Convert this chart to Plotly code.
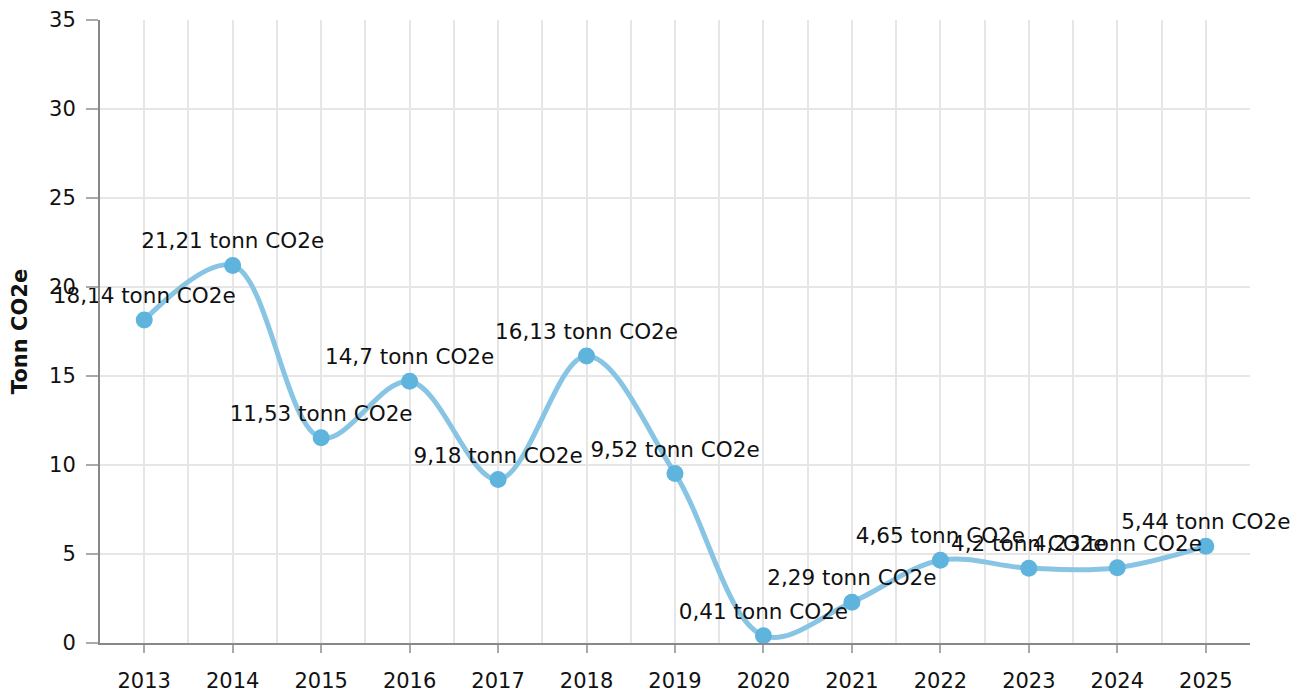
import plotly.graph_objects as go

years = [2013, 2014, 2015, 2016, 2017, 2018, 2019, 2020, 2021, 2022, 2023, 2024, 2025]
values = [18.14, 21.21, 11.53, 14.7, 9.18, 16.13, 9.52, 0.41, 2.29, 4.65, 4.2, 4.23, 5.44]
labels = [f"{str(v).replace('.', ',')} tonn CO2e" for v in values]
y_ticks = [0, 5, 10, 15, 20, 25, 30, 35]

FONT = "DejaVu Sans, Verdana, sans-serif"

fig = go.Figure()
fig.add_trace(go.Scatter(
    x=years, y=values,
    mode="lines+markers+text",
    line=dict(shape="spline", smoothing=1.0, color="#88c5e4", width=5),
    marker=dict(size=17, color="#5eb4dd"),
    text=labels,
    textposition="top center",
    textfont=dict(family=FONT, size=21.5, color="#111111"),
    cliponaxis=False,
    hoverinfo="x+y",
))

fig.update_layout(
    width=1306, height=691,
    margin=dict(l=92, r=64, t=12, b=56),
    paper_bgcolor="white", plot_bgcolor="white",
    showlegend=False,
    font=dict(family=FONT, size=21, color="#111111"),
    xaxis=dict(
        range=[2012.5, 2025.5],
        tickmode="array", tickvals=years, ticktext=[str(y) for y in years],
        showgrid=True, gridcolor="#e6e6e6", gridwidth=1.5,
        minor=dict(dtick=1, tick0=2012.5, showgrid=True, gridcolor="#e6e6e6", gridwidth=1.5),
        ticks="outside", ticklen=8, tickcolor="#aaaaaa", tickwidth=1.5,
        ticklabelstandoff=10,
        showline=True, linecolor="#888888", linewidth=2,
        zeroline=False, automargin=False,
        tickfont=dict(family=FONT, size=21, color="#111111"),
    ),
    yaxis=dict(
        range=[0, 35],
        tickvals=y_ticks,
        showgrid=True, gridcolor="#e6e6e6", gridwidth=1.5,
        ticks="outside", ticklen=12, tickcolor="#aaaaaa", tickwidth=1.5,
        ticklabelstandoff=6,
        showline=True, linecolor="#888888", linewidth=2,
        zeroline=False, automargin=False,
        tickfont=dict(family=FONT, size=21, color="#111111"),
        title=dict(text="<b>Tonn CO2e</b>", font=dict(family=FONT, size=21, color="#111111"), standoff=20),
    ),
)

fig.write_html("out.html")
